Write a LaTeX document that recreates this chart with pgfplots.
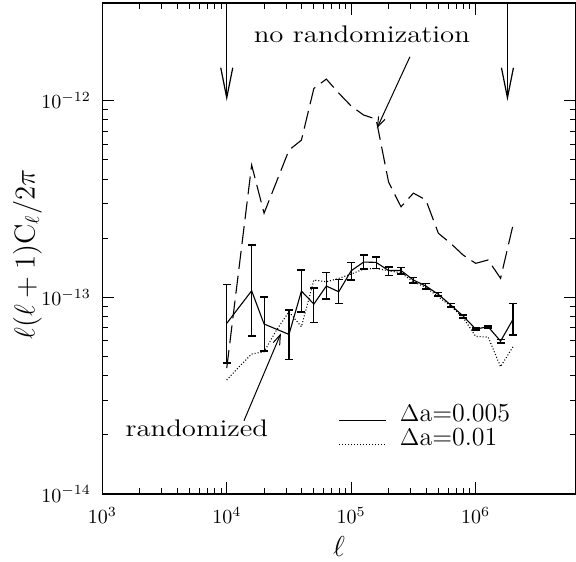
\documentclass[border=0pt]{standalone}
\usepackage{pgfplots}
\usepackage{pgfplotstable}
\pgfplotsset{compat=1.18}
\usetikzlibrary{arrows.meta}

% Delta a = 0.005, with errors (upper / lower offsets)
\pgfplotstableread{
x        y         ep        em
1e4      7.38e-14  4.26e-14  2.73e-14
1.585e4  10.80e-14 7.65e-14  4.44e-14
1.995e4  7.32e-14  2.75e-14  1.97e-14
3.162e4  6.48e-14  2.14e-14  1.64e-14
3.981e4  10.76e-14 3.01e-14  2.31e-14
5.012e4  9.25e-14  1.94e-14  1.79e-14
6.310e4  11.42e-14 1.98e-14  1.62e-14
7.943e4  10.68e-14 1.66e-14  1.36e-14
1e5      13.66e-14 1.41e-14  1.41e-14
1.259e5  15.12e-14 1.29e-14  1.19e-14
1.585e5  15.07e-14 1.02e-14  1.03e-14
1.995e5  13.70e-14 0.60e-14  0.80e-14
2.512e5  13.70e-14 0.50e-14  0.55e-14
3.162e5  12.25e-14 0.40e-14  0.40e-14
3.981e5  11.42e-14 0.36e-14  0.40e-14
5.012e5  10.36e-14 0.24e-14  0.21e-14
6.310e5  9.14e-14  0.18e-14  0.21e-14
7.943e5  8.03e-14  0.13e-14  0.15e-14
1e6      6.90e-14  0.08e-14  0.08e-14
1.259e6  7.09e-14  0.08e-14  0.08e-14
1.585e6  5.99e-14  0.12e-14  0.13e-14
1.995e6  7.73e-14  1.59e-14  1.30e-14
}\tabA

% Delta a = 0.01
\pgfplotstableread{
x        y
1e4      3.80e-14
1.259e4  4.44e-14
1.585e4  5.15e-14
1.995e4  5.29e-14
2.512e4  6.82e-14
3.162e4  8.45e-14
3.981e4  7.09e-14
5.012e4  12.25e-14
6.310e4  12.00e-14
7.943e4  12.49e-14
1e5      13.14e-14
1.259e5  13.93e-14
1.585e5  14.04e-14
1.995e5  13.66e-14
2.512e5  13.34e-14
3.162e5  12.00e-14
3.981e5  11.24e-14
5.012e5  10.07e-14
6.310e5  9.03e-14
7.943e5  7.89e-14
1e6      6.33e-14
1.259e6  6.28e-14
1.585e6  4.44e-14
1.995e6  5.61e-14
}\tabB

% no randomization
\pgfplotstableread{
x        y
1e4      4.37e-14
1.585e4  47.1e-14
1.995e4  26.8e-14
3.162e4  56.1e-14
3.981e4  63.1e-14
5.012e4  115.6e-14
6.310e4  128.9e-14
7.943e4  109.4e-14
1e5      94.0e-14
1.259e5  84.6e-14
1.585e5  80.7e-14
1.995e5  38.7e-14
2.512e5  28.9e-14
3.162e5  33.9e-14
3.981e5  31.3e-14
5.012e5  21.2e-14
6.310e5  18.8e-14
7.943e5  16.4e-14
1e6      14.9e-14
1.259e6  15.5e-14
1.585e6  12.5e-14
1.995e6  23.3e-14
}\tabC

\begin{document}
\begin{tikzpicture}
\begin{axis}[
  xmode=log, ymode=log,
  scale only axis, width=236.9pt, height=245.6pt,
  xmin=1e3, xmax=6.4e6, ymin=1e-14, ymax=3.15e-12,
  xtick={1e3,1e4,1e5,1e6}, ytick={1e-14,1e-13,1e-12},
  axis line style={line width=0.7pt},
  tick style={line width=0.5pt, black},
  tick align=inside, major tick length=6pt, minor tick length=3pt,
  tick label style={font=\fontsize{10}{12}\selectfont},
  yticklabel style={inner sep=0pt, xshift=-5.5pt},
  xticklabel style={inner sep=0pt, yshift=-6.5pt},
  xlabel={$\ell$},
  ylabel={$\ell(\ell+1)\mathrm{C}_\ell/2\pi$},
  label style={font=\fontsize{14}{16}\selectfont},
  xlabel style={at={(rel axis cs:0.5,0)}, anchor=north, inner sep=0pt, yshift=-21.3pt},
  ylabel style={at={(rel axis cs:0,0.5)}, anchor=south, inner sep=0pt, yshift=30pt, xshift=-3pt},
  legend style={draw=none, fill=none, at={(rel axis cs:0.499,0.185)}, anchor=north west,
    inner sep=0pt, outer sep=0pt, row sep=2pt, column sep=6.5pt,
    font=\fontsize{13}{13}\selectfont,
    nodes={inner sep=0pt, text height=9pt, text depth=1pt}},
  legend image code/.code={\draw[#1] (0pt,-3.5pt) -- (23.6pt,-3.5pt);},
  legend cell align=left,
]
\addplot[black, line width=0.55pt,
  error bars/.cd, y dir=both, y explicit,
  error bar style={line width=0.55pt},
  error mark options={line width=0.8pt, mark size=2pt, rotate=90}]
  table[x=x, y=y, y error plus=ep, y error minus=em] {\tabA};
\addlegendentry{$\Delta$a=0.005}
\addplot[black, line width=0.55pt, dash pattern=on 0.5pt off 1pt] table[x=x, y=y] {\tabB};
\addlegendentry{$\Delta$a=0.01}
\addplot[black, line width=0.55pt, dash pattern=on 9pt off 3.5pt, forget plot] table[x=x, y=y] {\tabC};

% arrows marking the range
\draw[line width=0.6pt, -{Straight Barb[length=15pt, width=6pt]}] (axis cs:1e4,3.15e-12) -- (axis cs:1e4,1e-12);
\draw[line width=0.6pt, -{Straight Barb[length=15pt, width=6pt]}] (axis cs:1.8e6,3.15e-12) -- (axis cs:1.8e6,1e-12);
\draw[line width=0.5pt, -{Straight Barb[length=5pt, width=3.5pt]}] (axis cs:2.962e5,1.674e-12) -- (axis cs:1.609e5,7.24e-13);
\draw[line width=0.5pt, -{Straight Barb[length=5pt, width=3.5pt]}] (axis cs:1.375e4,2.357e-14) -- (axis cs:2.724e4,6.56e-14);

\node[anchor=base, xscale=1.2, inner sep=0pt, font=\fontsize{12}{14}\selectfont] at (axis cs:1.219e5,1.972e-12) {no randomization};
\node[anchor=base, xscale=1.2, inner sep=0pt, font=\fontsize{12}{14}\selectfont] at (axis cs:5.75e3,1.954e-14) {randomized};
\end{axis}
\pgfresetboundingbox
\path[use as bounding box] (-51.15pt,-34pt) rectangle (236.9pt,247pt);
\end{tikzpicture}
\end{document}
